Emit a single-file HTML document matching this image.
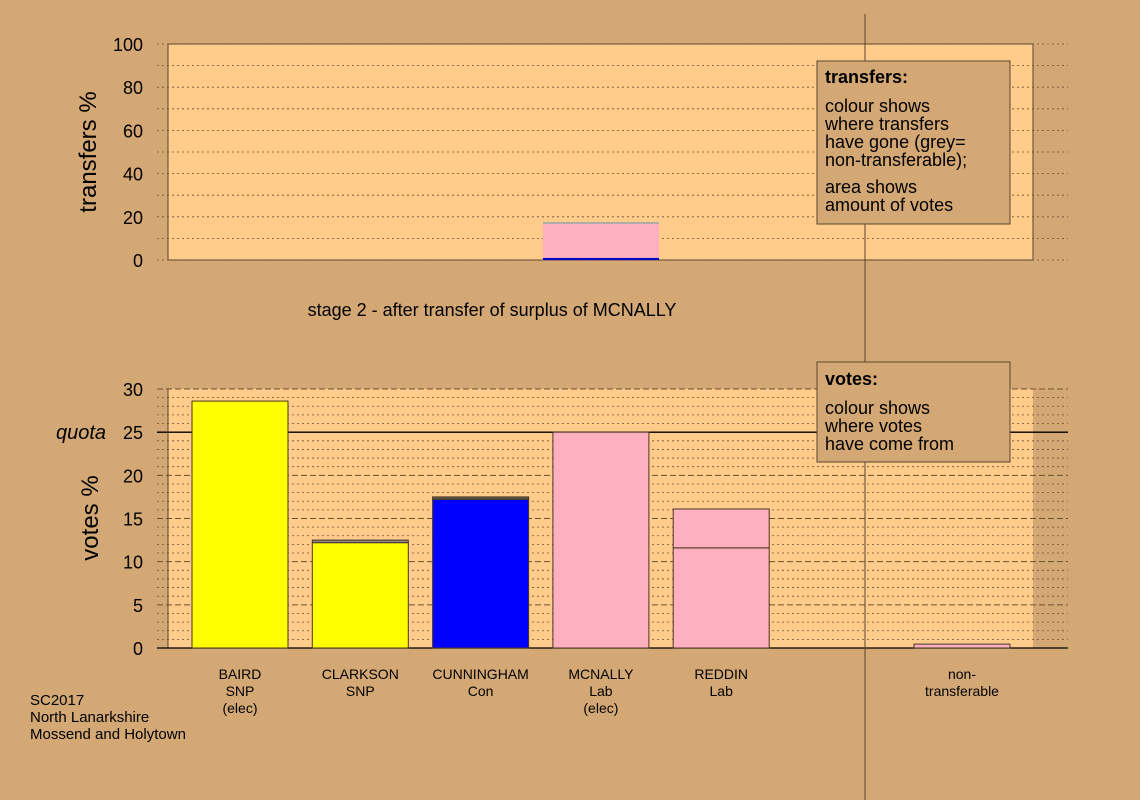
<!DOCTYPE html>
<html><head><meta charset="utf-8"><style>
body{margin:0;background:#D4A875;}
svg{display:block;font-family:"Liberation Sans",sans-serif;}
</style></head><body>
<svg id="c" width="1140" height="800" viewBox="0 0 1140 800">
<rect width="1140" height="800" fill="#D4A875"/>
<g id="topchart"></g><g id="botchart"></g>
<line x1="865" y1="14" x2="865" y2="800" stroke="#5a4530" stroke-width="1"/>
<g>
<rect x="817" y="61" width="193" height="163" fill="#D4A875" stroke="#5a4530"/>
<text x="825" y="83" font-size="18" font-weight="bold">transfers:</text>
<text font-size="18"><tspan x="825" y="112">colour shows</tspan><tspan x="825" y="130">where transfers</tspan><tspan x="825" y="148">have gone (grey=</tspan><tspan x="825" y="166">non-transferable);</tspan><tspan x="825" y="193">area shows</tspan><tspan x="825" y="211">amount of votes</tspan></text>
</g>
<g>
<rect x="817" y="362" width="193" height="100" fill="#D4A875" stroke="#5a4530"/>
<text x="825" y="385" font-size="18" font-weight="bold">votes:</text>
<text font-size="18"><tspan x="825" y="414">colour shows</tspan><tspan x="825" y="432">where votes</tspan><tspan x="825" y="450">have come from</tspan></text>
</g>
<text x="492" y="316" font-size="18" text-anchor="middle">stage 2 - after transfer of surplus of MCNALLY</text>
<text font-size="15"><tspan x="30" y="705">SC2017</tspan><tspan x="30" y="722">North Lanarkshire</tspan><tspan x="30" y="739">Mossend and Holytown</tspan></text>
</svg>
<script>
const NS="http://www.w3.org/2000/svg";
const candidates=["BAIRD|SNP|(elec)","CLARKSON|SNP","CUNNINGHAM|Con","MCNALLY|Lab|(elec)","REDDIN|Lab","non-|transferable"];
const seg1Values=[28.6,12.2,17.2,25,11.6,0.45];
const seg2Values=[0,0.3,0.3,0,4.5,0];
const seg1Colors=["#ffff00","#ffff00","#0000ff","#ffb0c0","#ffb0c0","#ffb0c0"];
const seg2Colors=["#ffff00","#888888","#555555","#ffb0c0","#ffb0c0","#ffb0c0"];
const quota=25;
const voteTicks=[0,5,10,15,20,25,30];
const transferTicks=[0,20,40,60,80,100];
const transferSegs=[1,15.7,0.9];
const transferColors=["#0000cc","#ffb0c0","#aaaaaa"];
function mk(p,t,a){const e=document.createElementNS(NS,t);for(const k in a)e.setAttribute(k,a[k]);p.appendChild(e);return e;}
// bottom chart
const botG=document.getElementById('botchart');
const yB=v=>648-v*(259/30);
const xB=i=>i<5?240+i*120.3:962;
const bg=mk(botG,'rect',{x:168,y:389,width:865,height:259,fill:'#FFCC8C'});


for(let v=0;v<=30;v++){
  const l=mk(botG,'line',{x1:157,x2:1068,y1:yB(v),y2:yB(v),stroke:'#6a5030','stroke-width':v%5?0.8:1,'stroke-dasharray':v%5?'2,3':'6,3'});
  
  
}
const q=mk(botG,'line',{x1:157,x2:1068,y1:yB(quota),y2:yB(quota),stroke:'#000','stroke-width':1.3});


const qt=mk(botG,'text',{x:56,y:yB(quota)+7,'font-size':20,'font-style':'italic'});qt.textContent='quota';


mk(botG,'line',{x1:168,x2:168,y1:389,y2:648,stroke:'#5a4530'});
mk(botG,'line',{x1:157,x2:1068,y1:648,y2:648,stroke:'#000','stroke-width':1.3});
voteTicks.forEach(v=>{const t=mk(botG,'text',{x:143,y:yB(v)+7,'font-size':18,'text-anchor':'end'});t.textContent=v;

});
const ya=mk(botG,'text',{transform:'translate(98,518) rotate(-90)','font-size':24,'text-anchor':'middle'});ya.textContent='votes %';


candidates.forEach((c,i)=>{
  const x=xB(i)-48;
  const r1=mk(botG,'rect',{x:x,y:yB(seg1Values[i]),width:96,height:yB(0)-yB(seg1Values[i]),fill:seg1Colors[i],stroke:'#4a3520'});
  
  
  if(seg2Values[i]>0){
    const tp=seg1Values[i]+seg2Values[i];
    const r2=mk(botG,'rect',{x:x,y:yB(tp),width:96,height:yB(seg1Values[i])-yB(tp),fill:seg2Colors[i],stroke:'#4a3520'});
    
    
  }
  const lines=c.split('|');
  const t=mk(botG,'text',{'font-size':14,'text-anchor':'middle'});
  
  
  lines.forEach((s,j)=>{const ts=mk(t,'tspan',{x:xB(i),y:679+j*17});ts.textContent=s;});
});
// top chart
const topG=document.getElementById('topchart');
const yT=v=>260-v*2.16;
const tb=mk(topG,'rect',{x:168,y:44,width:865,height:216,fill:'#FFCC8C',stroke:'#5a4530'});


for(let v=0;v<=100;v+=10){
  const l=mk(topG,'line',{x1:157,x2:1068,y1:yT(v),y2:yT(v),stroke:'#6a5030','stroke-width':0.8,'stroke-dasharray':'2,3'});
  
  
}
transferTicks.forEach(v=>{const t=mk(topG,'text',{x:143,y:yT(v)+7,'font-size':18,'text-anchor':'end'});t.textContent=v;

});
const ta=mk(topG,'text',{transform:'translate(96,152) rotate(-90)','font-size':24,'text-anchor':'middle'});ta.textContent='transfers %';


let acc=0;
transferSegs.forEach((s,i)=>{
  const r=mk(topG,'rect',{x:543,y:yT(acc+s),width:116,height:yT(acc)-yT(acc+s),fill:transferColors[i]});
  
  
  acc+=s;
});
</script>
</body></html>
